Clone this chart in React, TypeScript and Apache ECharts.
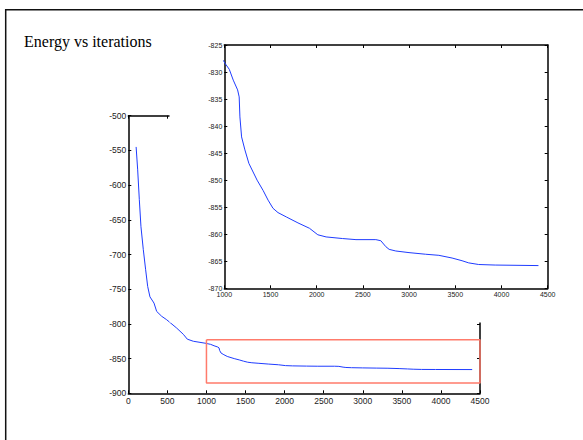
import React, { useEffect, useRef } from "react";
import * as echarts from "echarts";

const iterations = [100, 120, 141, 162, 192, 222, 248, 277, 329, 363, 427, 491, 619, 704, 755, 832, 994, 1008, 1054, 1097, 1144, 1161, 1169, 1187, 1223, 1266, 1355, 1420, 1474, 1527, 1581, 1671, 1797, 1922, 2012, 2102, 2281, 2425, 2640, 2694, 2748, 2784, 2856, 2999, 3179, 3322, 3465, 3573, 3645, 3753, 3932, 4400];
const energy = [-545, -578, -621, -660, -693, -722, -746, -761, -770, -782, -789, -794, -806, -815, -822, -825, -828, -828.4, -829.5, -831.5, -833.3, -834.6, -838.3, -842, -844.4, -846.9, -850, -851.9, -853.7, -855.2, -856, -856.8, -857.9, -858.9, -860.1, -860.5, -860.8, -861, -861, -861.2, -862.3, -862.8, -863.1, -863.4, -863.7, -863.9, -864.4, -864.9, -865.3, -865.6, -865.7, -865.8];

// zoom window shown in the inset
const zoomX = [1000, 4500];
const zoomY = [-823, -885];

const title = "Energy vs iterations";

const LINE = "#1f3cff";
const RED = "#ff7b6b";
const LABEL = "#222";
const SANS = "'Liberation Sans', Arial, sans-serif";

export default function App() {
  const ref = useRef<HTMLDivElement>(null);
  useEffect(() => {
    document.body.style.margin = "0";
    const chart = echarts.init(ref.current!, null, { renderer: "svg" });
    const pts = iterations.map((x, i) => [x, energy[i]]);
    const boxPts = [
      [zoomX[0], zoomY[0]],
      [zoomX[1], zoomY[0]],
      [zoomX[1], zoomY[1]],
      [zoomX[0], zoomY[1]],
      [zoomX[0], zoomY[0]],
    ];
    const axisCommon = (fs: number, margin: number, z: number, show: boolean) => ({
      z,
      axisLine: { show: true, onZero: false, lineStyle: { color: "#000", width: 1.5 } },
      axisTick: { show: true, inside: true, length: 3, lineStyle: { color: "#000", width: 1 } },
      axisLabel: { show, fontSize: fs, color: LABEL, fontFamily: SANS, margin, formatter: (v: number) => String(v) },
      splitLine: { show: false },
    });
    chart.setOption({
      animation: false,
      backgroundColor: "#fff",
      grid: [
        { left: 128.3, top: 115.7, width: 351.7, height: 277.6 },
        { left: 224.3, top: 45, width: 323.4, height: 243.3 },
      ],
      xAxis: [
        { type: "value", gridIndex: 0, min: 0, max: 4500, interval: 500, position: "bottom", ...axisCommon(8.5, 3.5, 0, true) },
        { type: "value", gridIndex: 0, min: 0, max: 4500, interval: 500, position: "top", ...axisCommon(8.5, 3.5, 0, false) },
        { type: "value", gridIndex: 1, min: 1000, max: 4500, interval: 500, position: "bottom", ...axisCommon(7, 3, 10, true) },
        { type: "value", gridIndex: 1, min: 1000, max: 4500, interval: 500, position: "top", ...axisCommon(7, 3, 10, false) },
      ],
      yAxis: [
        { type: "value", gridIndex: 0, min: -900, max: -500, interval: 50, position: "left", ...axisCommon(8.5, 2, 0, true) },
        { type: "value", gridIndex: 0, min: -900, max: -500, interval: 50, position: "right", ...axisCommon(8.5, 2, 0, false) },
        { type: "value", gridIndex: 1, min: -870, max: -825, interval: 5, position: "left", ...axisCommon(7, 2, 10, true) },
        { type: "value", gridIndex: 1, min: -870, max: -825, interval: 5, position: "right", ...axisCommon(7, 2, 10, false) },
      ],
      series: [
        {
          type: "line", xAxisIndex: 0, yAxisIndex: 0, data: pts, showSymbol: false, symbol: "none",
          lineStyle: { color: LINE, width: 1 }, z: 2, clip: true,
        },
        {
          type: "line", xAxisIndex: 0, yAxisIndex: 0, data: boxPts, showSymbol: false, symbol: "none",
          lineStyle: { color: RED, width: 1.5 }, z: 2, clip: false,
        },
        {
          type: "line", xAxisIndex: 2, yAxisIndex: 2, data: pts, showSymbol: false, symbol: "none",
          lineStyle: { color: LINE, width: 1 }, z: 11, clip: true,
        },
      ],
      graphic: [
        {
          type: "rect", z: 5, silent: true,
          shape: { x: 169.5, y: 20, width: 400, height: 302.5 },
          style: { fill: "#fff" },
        },
        {
          type: "rect", z: 20, silent: true,
          shape: { x: 5.7, y: 9.7, width: 620, height: 460 },
          style: { fill: "none", stroke: "#111", lineWidth: 1.5 },
        },
        {
          type: "text", z: 20, x: 24, y: 41.5,
          style: { text: title, fontSize: 16, fontFamily: "'Liberation Serif', 'Times New Roman', serif", fill: "#000", verticalAlign: "middle", align: "left" },
        },
      ],
    });
    return () => chart.dispose();
  }, []);
  return <div ref={ref} style={{ width: 583, height: 440 }} />;
}
